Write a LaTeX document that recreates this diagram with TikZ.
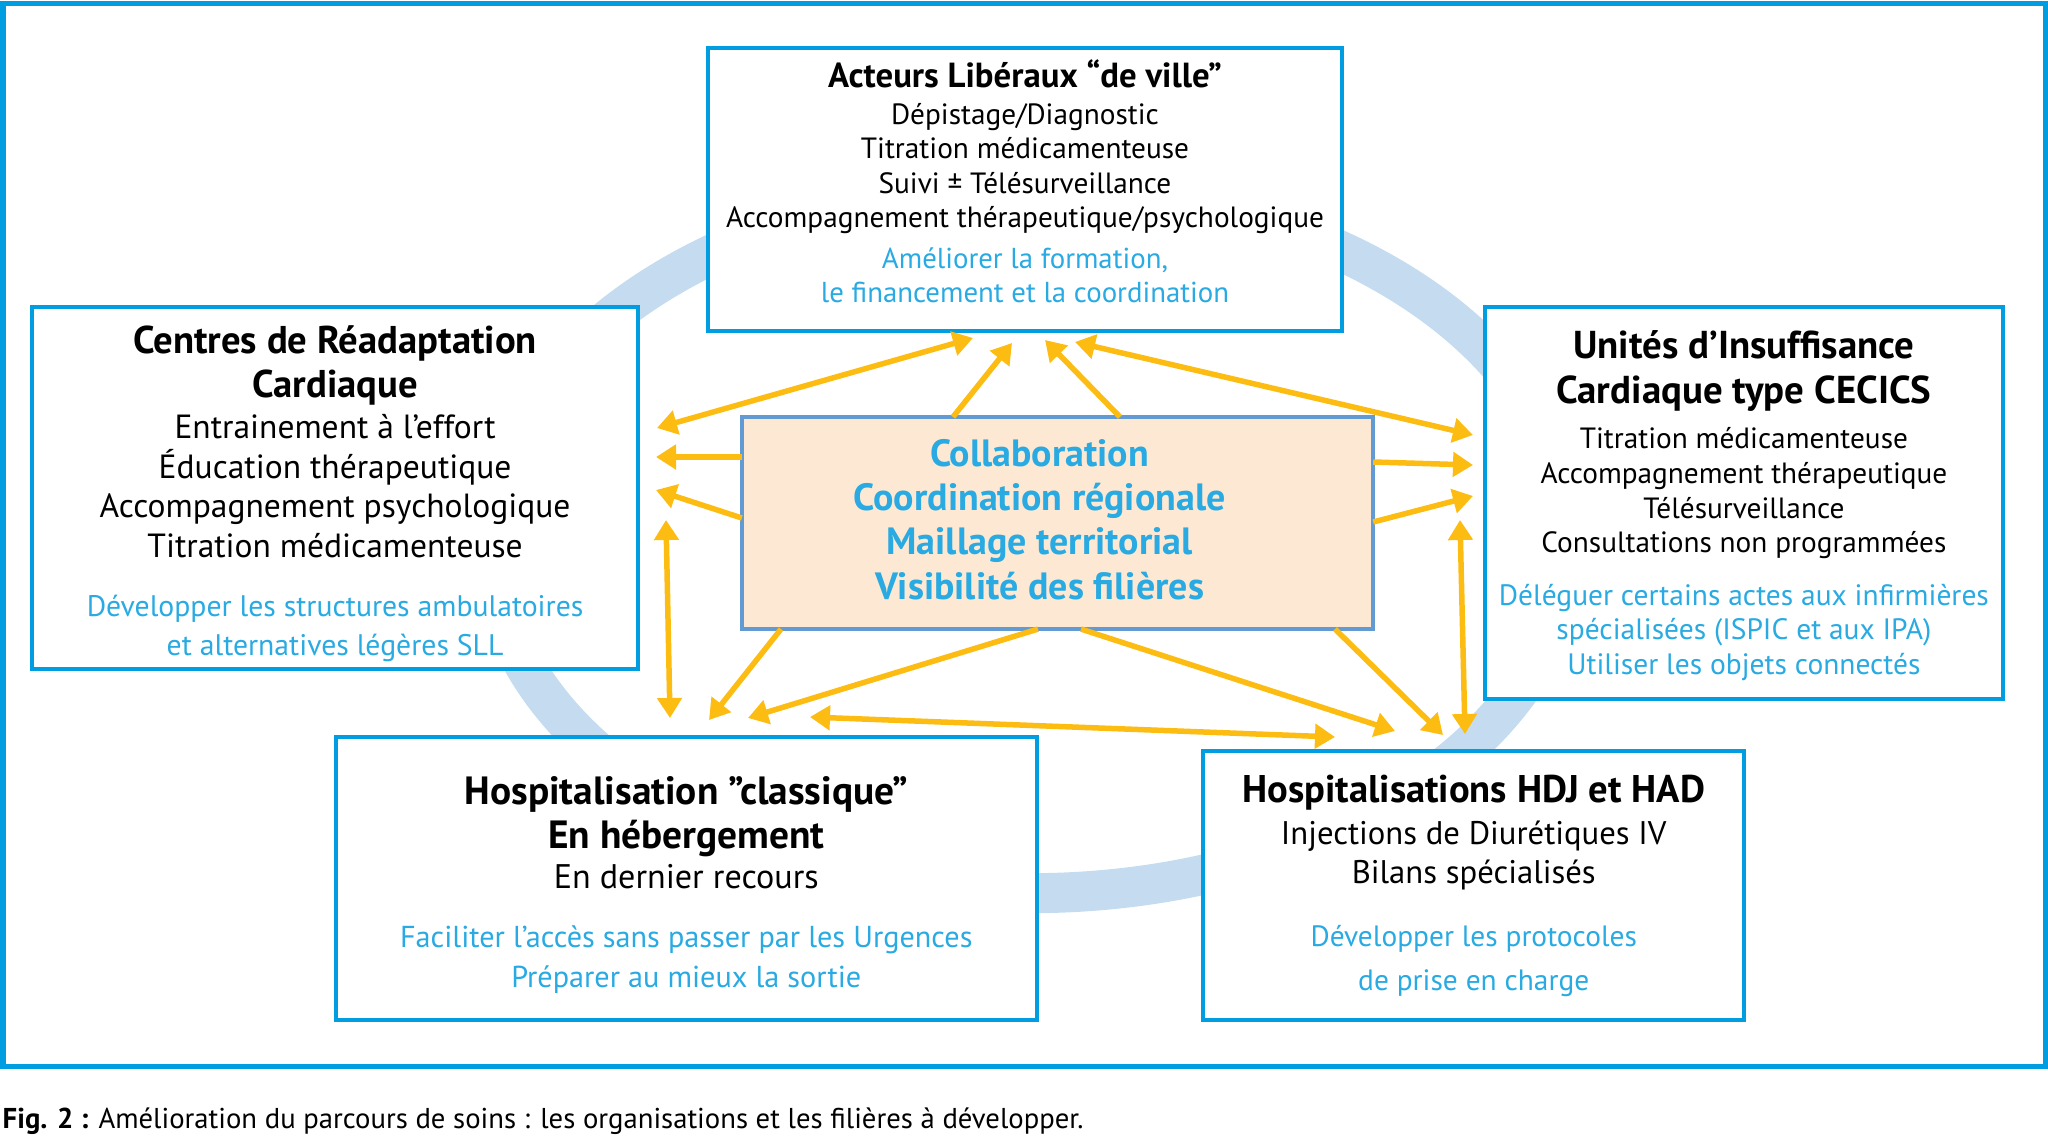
\documentclass[tikz,border=0pt]{standalone}
\usepackage{fontspec}
\setmainfont{PT Sans}
\usetikzlibrary{arrows.meta,positioning}
\definecolor{frameblue}{RGB}{0,158,224}
\definecolor{textblue}{RGB}{41,170,226}
\definecolor{hubline}{RGB}{98,155,212}
\definecolor{hubfill}{RGB}{253,233,211}
\definecolor{ringblue}{RGB}{197,220,240}
\definecolor{arrowyel}{RGB}{252,188,18}
\newcommand{\hl}[3]{{\fontsize{#1}{#2}\selectfont\color{textblue}#3}}
\newcommand{\ttl}[2]{\fontsize{#1}{#2}\selectfont\bfseries}
\newcommand{\hubln}[1]{#1\kern10.2pt}
\tikzset{
  box/.style={draw=frameblue, line width=0.04cm, fill=white, outer sep=0pt, inner ysep=0pt, align=center},
  hub/.style={draw=hubline, line width=0.04cm, fill=hubfill, outer sep=0pt, align=center,
              text=textblue, font=\fontsize{10.8}{12.6}\selectfont\bfseries},
  arr/.style={draw=arrowyel, line width=0.055cm, -{Triangle[length=0.2cm,width=0.24cm]}},
  dbl/.style={draw=arrowyel, line width=0.055cm,
              {Triangle[length=0.2cm,width=0.24cm]}-{Triangle[length=0.2cm,width=0.24cm]}}
}
\begin{document}
\begin{tikzpicture}[x=0.01cm, y=-0.01cm]
  \useasboundingbox (0,0) rectangle (2048,1136);
  \draw[ringblue, line width=0.4cm] (1030,540) ellipse [x radius=5.4cm, y radius=3.53cm];
  \draw[frameblue, line width=0.05cm] (3,3) rectangle (2045,1066);

  \node[hub, minimum width=6.31cm, minimum height=2.12cm] (collab) at (1057.5,523)
    {\hubln{Collaboration}\\ \hubln{Coordination régionale}\\ \hubln{Maillage territorial}\\
     \hubln{Visibilité des filières}\rule[-2.2pt]{0pt}{0pt}};

  \node[box, minimum width=6.34cm, minimum height=2.83cm, above=0.86cm of collab, xshift=-0.325cm,
        font=\fontsize{8.33}{9.8}\selectfont] (ville)
    {{\ttl{9.9}{9.8}Acteurs Libéraux “de ville”}\\[0.6pt]
     Dépistage/Diagnostic\\ Titration médicamenteuse\\ Suivi ± Télésurveillance\\
     Accompagnement thérapeutique/psychologique\\[1.7pt]
     \hl{8.2}{9.8}{Améliorer la formation,}\\
     \hl{8.2}{9.8}{le financement et la coordination\rule[-4.5pt]{0pt}{0pt}}};

  \node[box, minimum width=6.05cm, minimum height=3.62cm, left=1.04cm of collab, yshift=0.35cm,
        font=\fontsize{9.53}{11.27}\selectfont] (crc)
    {{\ttl{11}{11.27}\rule{0pt}{11.3pt}Centres de Réadaptation}\\[1.37pt]
     {\ttl{11}{11.27}Cardiaque}\\[0.26pt]
     Entrainement à l’effort\\ Éducation thérapeutique\\ Accompagnement psychologique\\
     Titration médicamenteuse\\[5.5pt]
     \hl{8.45}{11.27}{Développer les structures ambulatoires}\\
     \hl{8.45}{11.27}{et alternatives légères SLL}};

  \node[box, minimum width=5.17cm, minimum height=3.92cm, right=1.12cm of collab, yshift=0.2cm,
        font=\fontsize{8.33}{9.85}\selectfont] (uic)
    {{\ttl{11.05}{9.85}\rule{0pt}{9.5pt}Unités d’Insuffisance}\\[2.8pt]
     {\ttl{11.05}{9.85}Cardiaque type CECICS}\\[3.1pt]
     Titration médicamenteuse\\ Accompagnement thérapeutique\\ Télésurveillance\\
     Consultations non programmées\\[5pt]
     \hl{8.38}{9.85}{Déléguer certains actes aux infirmières}\\
     \hl{8.38}{9.85}{spécialisées (ISPIC et aux IPA)}\\
     \hl{8.38}{9.85}{Utiliser les objets connectés}};

  \node[box, minimum width=7.01cm, minimum height=2.83cm, below=1.08cm of collab, xshift=-3.71cm,
        font=\fontsize{9.7}{11.15}\selectfont] (hosp)
    {{\ttl{11.2}{11.15}\rule{0pt}{11.3pt}Hospitalisation ”classique”}\\[1.48pt]
     {\ttl{11.2}{11.15}En hébergement}\\[0.37pt]
     En dernier recours\\[5.6pt]
     \hl{8.6}{11.15}{Faciliter l’accès sans passer par les Urgences}\\
     \hl{8.6}{11.15}{Préparer au mieux la sortie}};

  \node[box, minimum width=5.41cm, minimum height=2.69cm, below=1.22cm of collab, xshift=4.16cm,
        font=\fontsize{9.3}{11.15}\selectfont] (hdj)
    {{\ttl{10.97}{11.15}Hospitalisations HDJ et HAD}\\[0.74pt]
     Injections de Diurétiques IV\\ Bilans spécialisés\\[6.7pt]
     \hl{8.36}{11.15}{Développer les protocoles}\\[1.48pt]
     \hl{8.36}{11.15}{de prise en charge}};

  \node[anchor=base west, inner sep=0pt, font=\fontsize{8.16}{9.8}\selectfont] (caption) at (2,1128)
    {\textbf{Fig. 2 :} Amélioration du parcours de soins : les organisations et les filières à développer.};

  \coordinate (c1)  at (657,428);  \coordinate (v1)  at (973,338);
  \coordinate (v2)  at (1012,343); \coordinate (v3)  at (1045,340);
  \coordinate (v4)  at (1075,342); \coordinate (u4)  at (1473,435);
  \coordinate (c5)  at (656,457);  \coordinate (c6)  at (656,490);
  \coordinate (u7)  at (1473,465); \coordinate (u8)  at (1473,496);
  \coordinate (c9)  at (666,520);  \coordinate (h9)  at (670,718);
  \coordinate (u10) at (1460,520); \coordinate (d10) at (1465,734);
  \coordinate (h11) at (709,720);  \coordinate (h12) at (748,718);
  \coordinate (h13) at (810,717);  \coordinate (d13) at (1335,737);
  \coordinate (d14) at (1395,731); \coordinate (d15) at (1443,735);

  \draw[dbl] (c1) -- (v1);
  \draw[dbl] (v4) -- (u4);
  \draw[dbl] (c9) -- (h9);
  \draw[dbl] (u10) -- (d10);
  \draw[dbl] (h13) -- (d13);
  \draw[arr] (collab.north -| 953,0)  -- (v2);
  \draw[arr] (collab.north -| 1120,0) -- (v3);
  \draw[arr] (collab.west |- 0,457)   -- (c5);
  \draw[arr] (collab.west |- 0,518)   -- (c6);
  \draw[arr] (collab.east |- 0,462)   -- (u7);
  \draw[arr] (collab.east |- 0,522)   -- (u8);
  \draw[arr] (collab.south -| 781,0)  -- (h11);
  \draw[arr] (collab.south -| 1038,0) -- (h12);
  \draw[arr] (collab.south -| 1081,0) -- (d14);
  \draw[arr] (collab.south -| 1335,0) -- (d15);
\end{tikzpicture}
\end{document}
